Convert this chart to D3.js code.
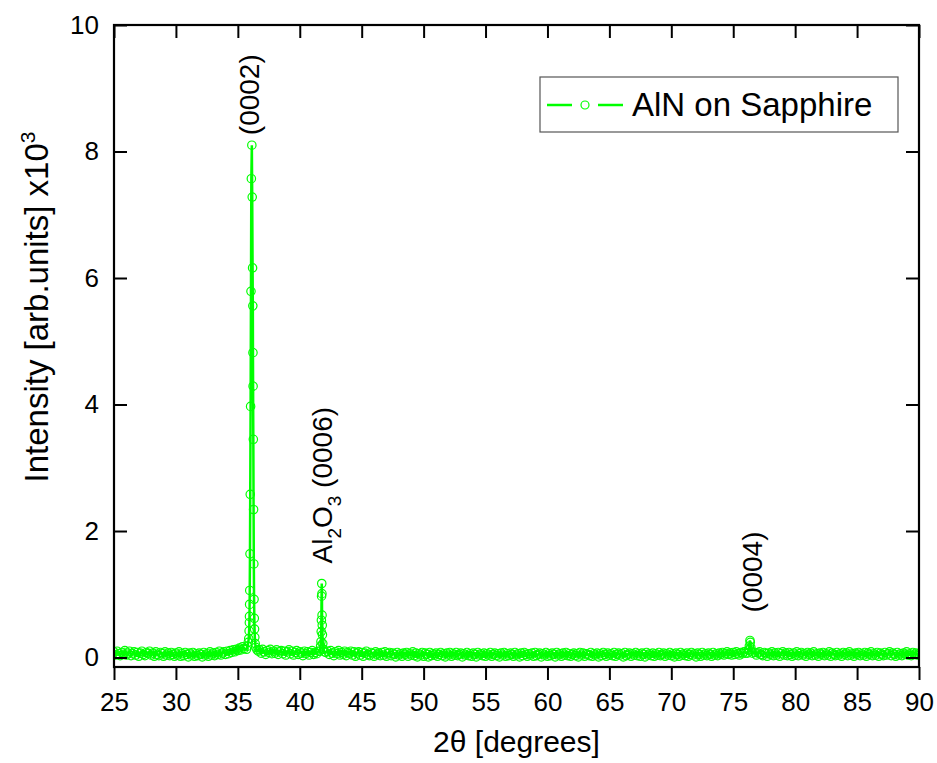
<!DOCTYPE html>
<html><head><meta charset="utf-8">
<script src="https://cdn.jsdelivr.net/npm/d3@7"></script>
<style>body{margin:0;background:#fff} text{font-family:Arial,"Liberation Sans",sans-serif;fill:#000}</style>
</head><body>
<svg id="c" width="937" height="763"></svg>
<script>
// ---- data (intensity in units of 10^3) ----
const xTicks = [25,30,35,40,45,50,55,60,65,70,75,80,85,90];
const yTicks = [0,2,4,6,8,10];
const scanStep = 0.125;

const base1Start = 25.00;   // 25.000 .. 35.500
const base1 = [0.09,0.04,0.10,0.06,0.03,0.08,0.05,0.11,0.04,0.07,
               0.10,0.03,0.06,0.09,0.04,0.08,0.02,0.07,0.10,0.05,
               0.03,0.08,0.06,0.10,0.04,0.07,0.02,0.09,0.05,0.03,
               0.08,0.06,0.02,0.09,0.04,0.07,0.03,0.08,0.05,0.02,
               0.07,0.04,0.09,0.02,0.06,0.03,0.08,0.05,0.01,0.07,
               0.04,0.08,0.02,0.06,0.03,0.07,0.05,0.01,0.08,0.04,
               0.06,0.02,0.09,0.04,0.07,0.03,0.08,0.05,0.10,0.04,
               0.07,0.09,0.05,0.10,0.06,0.11,0.08,0.12,0.09,0.13,
               0.11,0.15,0.12,0.17,0.14];
const peak0002X = [35.70,35.78,35.84,35.88,35.91,35.93,35.94,35.95,35.96,35.98,36.00,36.03,36.06,36.09,36.13,
                   36.16,36.19,36.21,36.22,36.23,36.25,36.27,36.29,36.31,36.33,36.35,36.37,36.40,36.45,36.55,36.65];
const peak0002Y = [0.13,0.18,0.24,0.30,0.42,0.55,0.65,0.84,1.06,1.64,2.58,3.97,5.79,7.57,8.10,
                   7.28,6.16,5.56,4.82,4.29,3.45,2.34,1.48,0.92,0.62,0.45,0.32,0.22,0.16,0.12,0.10];
const base2Start = 36.75;   // 36.750 .. 41.500
const base2 = [0.12,0.07,0.13,0.09,0.05,0.11,0.08,0.13,0.06,0.10,
               0.07,0.12,0.05,0.09,0.11,0.06,0.10,0.04,0.09,0.12,
               0.06,0.10,0.04,0.08,0.11,0.05,0.09,0.07,0.03,0.10,
               0.06,0.09,0.04,0.08,0.11,0.05,0.08,0.06,0.10];
const peakSapX = [41.60,41.68,41.71,41.73,41.745,41.76,41.775,41.79,41.80,41.815,41.83,41.86,41.92,42.00,42.10];
const peakSapY = [0.10,0.18,0.25,0.41,0.59,0.97,1.17,1.01,0.67,0.51,0.36,0.22,0.13,0.09,0.08];
const base3Start = 42.25;   // 42.250 .. 76.000
const base3 = [0.10,0.05,0.11,0.07,0.03,0.09,0.06,0.11,0.04,0.08,
               0.05,0.10,0.03,0.08,0.06,0.10,0.04,0.09,0.02,0.07,
               0.09,0.04,0.08,0.02,0.07,0.10,0.05,0.03,0.08,0.06,
               0.02,0.09,0.05,0.07,0.03,0.08,0.04,0.09,0.02,0.06,
               0.08,0.03,0.07,0.05,0.01,0.08,0.04,0.06,0.02,0.07,
               0.05,0.08,0.02,0.06,0.04,0.09,0.03,0.07,0.01,0.06,
               0.04,0.08,0.02,0.07,0.05,0.01,0.08,0.03,0.06,0.04,
               0.07,0.02,0.05,0.08,0.03,0.06,0.01,0.07,0.04,0.08,
               0.02,0.06,0.04,0.08,0.03,0.05,0.07,0.01,0.06,0.04,
               0.08,0.03,0.06,0.02,0.07,0.05,0.01,0.08,0.04,0.06,
               0.03,0.07,0.02,0.06,0.04,0.08,0.02,0.05,0.07,0.03,
               0.06,0.01,0.07,0.04,0.08,0.02,0.06,0.03,0.07,0.05,
               0.02,0.08,0.04,0.06,0.01,0.07,0.03,0.08,0.05,0.02,
               0.06,0.04,0.07,0.02,0.08,0.03,0.05,0.07,0.01,0.06,
               0.04,0.08,0.02,0.06,0.03,0.07,0.05,0.01,0.08,0.04,
               0.06,0.02,0.07,0.04,0.08,0.03,0.06,0.02,0.05,0.07,
               0.03,0.06,0.01,0.08,0.04,0.07,0.02,0.06,0.05,0.03,
               0.08,0.02,0.06,0.04,0.07,0.01,0.06,0.03,0.08,0.05,
               0.02,0.07,0.04,0.06,0.03,0.08,0.02,0.05,0.07,0.04,
               0.06,0.01,0.08,0.03,0.05,0.07,0.02,0.06,0.04,0.08,
               0.03,0.06,0.02,0.07,0.05,0.01,0.08,0.04,0.06,0.03,
               0.07,0.02,0.06,0.04,0.08,0.03,0.05,0.07,0.02,0.06,
               0.04,0.08,0.03,0.06,0.01,0.07,0.05,0.02,0.08,0.04,
               0.06,0.03,0.07,0.02,0.05,0.08,0.04,0.06,0.01,0.07,
               0.05,0.02,0.08,0.04,0.06,0.03,0.07,0.05,0.02,0.08,
               0.04,0.06,0.03,0.07,0.05,0.08,0.04,0.06,0.09,0.05,
               0.07,0.04,0.08,0.05,0.09,0.06,0.04,0.08,0.06,0.09,
               0.07];
const peak0004X = [76.15,76.25,76.30,76.35,76.38,76.42,76.48,76.55];
const peak0004Y = [0.07,0.12,0.18,0.27,0.24,0.16,0.10,0.07];
const base4Start = 76.75;   // 76.750 .. 90.000
const base4 = [0.08,0.04,0.07,0.09,0.05,0.03,0.08,0.06,0.02,0.07,
               0.05,0.09,0.03,0.07,0.04,0.08,0.02,0.06,0.09,0.04,
               0.07,0.03,0.08,0.05,0.02,0.07,0.04,0.09,0.03,0.06,
               0.08,0.04,0.06,0.02,0.08,0.05,0.07,0.03,0.09,0.04,
               0.06,0.02,0.07,0.05,0.08,0.03,0.06,0.04,0.09,0.02,
               0.07,0.05,0.03,0.08,0.04,0.06,0.02,0.08,0.05,0.07,
               0.03,0.09,0.04,0.06,0.02,0.07,0.05,0.08,0.03,0.06,
               0.04,0.08,0.02,0.07,0.05,0.09,0.03,0.06,0.04,0.08,
               0.02,0.07,0.05,0.03,0.08,0.04,0.06,0.09,0.03,0.07,
               0.05,0.02,0.08,0.04,0.06,0.03,0.07,0.05,0.09,0.04,
               0.06,0.03,0.08,0.05,0.07,0.04,0.06];
const seriesName = "AlN on Sapphire";
const peakLabelX = [36.13, 41.775, 76.35];
const peakLabelY = [8.10, 1.17, 0.27];
const peakLabelText = [
  [["(0002)",false]],
  [["Al",false],["2",true],["O",false],["3",true],[" (0006)",false]],
  [["(0004)",false]]
];

// ---- assemble series ----
function grid(start, vals){ return vals.map((v,i)=>({x:+(start+i*scanStep).toFixed(3), y:v})); }
function pts(xs, ys){ return xs.map((x,i)=>({x:x, y:ys[i]})); }
const data = [].concat(
  grid(base1Start, base1), pts(peak0002X, peak0002Y),
  grid(base2Start, base2), pts(peakSapX, peakSapY),
  grid(base3Start, base3), pts(peak0004X, peak0004Y),
  grid(base4Start, base4)
).sort((a,b)=>a.x-b.x);

// ---- layout ----
const L=114, R=919, T=25, B=667;
const xS = d3.scaleLinear().domain([25,90]).range([L,R]);
const yS = d3.scaleLinear().domain([-0.15,10]).range([B,T]);
const svg = d3.select("#c");
const green = "#00ff00";

svg.append("clipPath").attr("id","clip").append("rect")
  .attr("x",L).attr("y",T).attr("width",R-L).attr("height",B-T);

const g = svg.append("g").attr("clip-path","url(#clip)");
g.append("path").datum(data)
  .attr("d", d3.line().x(d=>xS(d.x)).y(d=>yS(d.y)))
  .attr("fill","none").attr("stroke",green).attr("stroke-width",2.5);
g.selectAll("circle").data(data).join("circle")
  .attr("cx",d=>xS(d.x)).attr("cy",d=>yS(d.y)).attr("r",4.2)
  .attr("fill","none").attr("stroke",green).attr("stroke-width",1.2);

// ---- axes ----
const tl = 13;
const axB = svg.append("g").attr("transform",`translate(0,${B})`)
  .call(d3.axisBottom(xS).tickValues(xTicks).tickSize(tl).tickPadding(6).tickFormat(d3.format("d")));
const axT = svg.append("g").attr("transform",`translate(0,${T})`)
  .call(d3.axisBottom(xS).tickValues(xTicks).tickSize(tl).tickFormat(""));
const axL = svg.append("g").attr("transform",`translate(${L},0)`)
  .call(d3.axisRight(yS).tickValues(yTicks).tickSize(tl).tickFormat(""));
const axR = svg.append("g").attr("transform",`translate(${R},0)`)
  .call(d3.axisLeft(yS).tickValues(yTicks).tickSize(tl).tickFormat(""));
const axLab = svg.append("g").attr("transform",`translate(${L},0)`)
  .call(d3.axisLeft(yS).tickValues(yTicks).tickSize(0).tickPadding(15).tickFormat(d3.format("d")));
[axB,axT,axL,axR,axLab].forEach(a=>{
  a.select(".domain").remove();
  a.selectAll(".tick line").attr("stroke","#000").attr("stroke-width",2);
  a.selectAll("text").attr("font-size",26).attr("font-family","Arial, 'Liberation Sans', sans-serif").attr("fill","#000");
});
axB.selectAll("text").attr("dy","0.95em");
svg.append("rect").attr("x",L).attr("y",T).attr("width",R-L).attr("height",B-T)
  .attr("fill","none").attr("stroke","#000").attr("stroke-width",2.2);

// ---- axis titles ----
svg.append("text").attr("x",(L+R)/2).attr("y",752).attr("text-anchor","middle")
  .attr("font-size",30).text("2θ [degrees]");
const yt = svg.append("text").attr("transform","translate(48,307) rotate(-90)")
  .attr("text-anchor","middle").attr("font-size",33);
yt.append("tspan").text("Intensity [arb.units] x10");
yt.append("tspan").attr("dy",-13).attr("font-size",21).text("3");

// ---- peak labels ----
const labelDX = [7, 10, 12];
const labelDY = [-10, -20, -28];
peakLabelText.forEach((parts,i)=>{
  const t = svg.append("text")
    .attr("transform",`translate(${xS(peakLabelX[i])+labelDX[i]},${yS(peakLabelY[i])+labelDY[i]}) rotate(-90)`)
    .attr("font-size",28);
  parts.forEach(([s,sub],j)=>{
    const prevSub = j>0 && parts[j-1][1];
    const ts = t.append("tspan").text(s);
    if(sub){ ts.attr("font-size",19).attr("dy",9); }
    else if(prevSub){ ts.attr("dy",-9); }
  });
});

// ---- legend ----
const lg = svg.append("g");
lg.append("rect").attr("x",540).attr("y",77).attr("width",358).attr("height",55)
  .attr("fill","#fff").attr("stroke","#555").attr("stroke-width",1.2);
lg.append("line").attr("x1",547).attr("x2",572).attr("y1",105).attr("y2",105).attr("stroke",green).attr("stroke-width",2.5);
lg.append("line").attr("x1",598).attr("x2",623).attr("y1",105).attr("y2",105).attr("stroke",green).attr("stroke-width",2.5);
lg.append("circle").attr("cx",585).attr("cy",105).attr("r",4).attr("fill","none").attr("stroke",green).attr("stroke-width",1.2);
lg.append("text").attr("x",632).attr("y",116).attr("font-size",33).text(seriesName);
</script>
</body></html>
